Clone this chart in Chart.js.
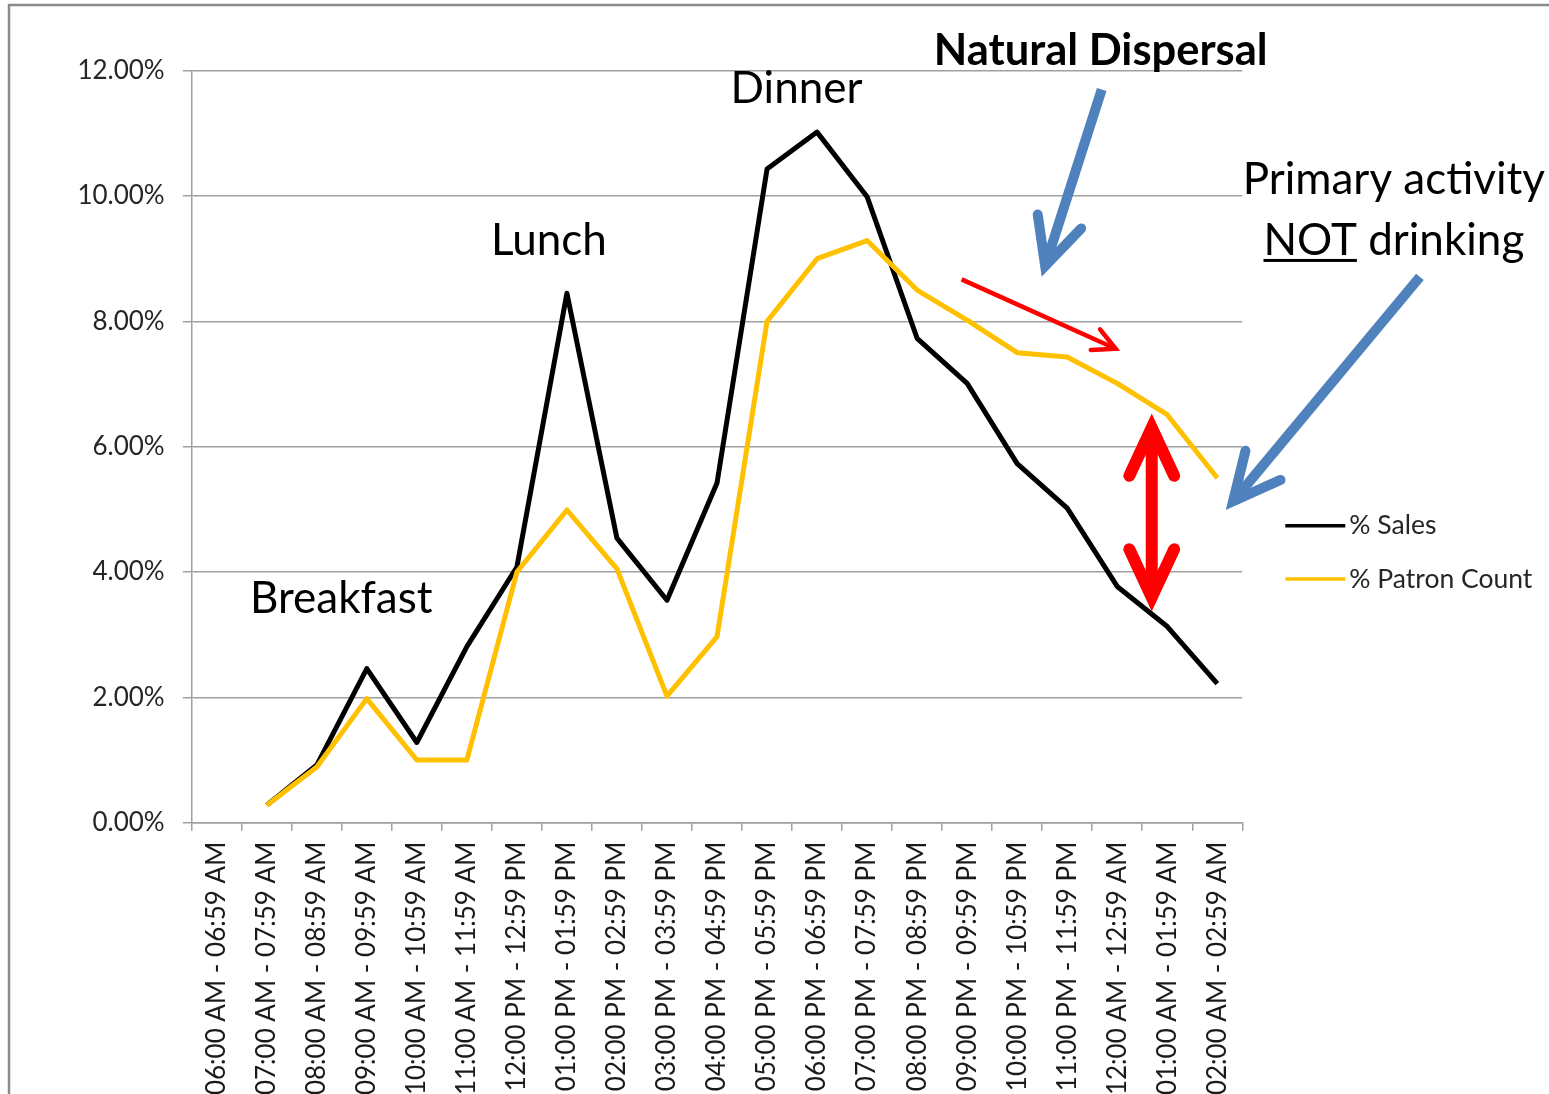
<!DOCTYPE html>
<html>
<head>
<meta charset="utf-8">
<script src="https://cdn.jsdelivr.net/npm/chart.js@4/dist/chart.umd.min.js"></script>
<style>
  html, body { margin: 0; padding: 0; background: #fff; overflow: hidden; }
  canvas { display: block; }
</style>
</head>
<body>
<canvas id="chart" width="1549" height="1094"></canvas>
<script>
// Hour buckets on the x axis
const hours = [
    '06:00 AM - 06:59 AM', '07:00 AM - 07:59 AM', '08:00 AM - 08:59 AM',
    '09:00 AM - 09:59 AM', '10:00 AM - 10:59 AM', '11:00 AM - 11:59 AM',
    '12:00 PM - 12:59 PM', '01:00 PM - 01:59 PM', '02:00 PM - 02:59 PM',
    '03:00 PM - 03:59 PM', '04:00 PM - 04:59 PM', '05:00 PM - 05:59 PM',
    '06:00 PM - 06:59 PM', '07:00 PM - 07:59 PM', '08:00 PM - 08:59 PM',
    '09:00 PM - 09:59 PM', '10:00 PM - 10:59 PM', '11:00 PM - 11:59 PM',
    '12:00 AM - 12:59 AM', '01:00 AM - 01:59 AM', '02:00 AM - 02:59 AM'
];

// Values in percent
const salesPct = [null, 0.28, 0.92, 2.46, 1.28, 2.81, 4.08, 8.45, 4.54, 3.55, 5.42,
                  10.43, 11.02, 9.99, 7.73, 7.01, 5.73, 5.02, 3.77, 3.13, 2.22];
const patronPct = [null, 0.28, 0.89, 1.98, 1.0, 1.0, 4.0, 4.99, 4.05, 2.02, 2.97,
                   8.0, 9.0, 9.29, 8.5, 8.02, 7.5, 7.43, 7.01, 6.51, 5.5];

const yTicks = [0, 2, 4, 6, 8, 10, 12];

const FONT = 'Lato';

// Callouts, placed in data space (category index, percent)
const notes = [
    {text: 'Breakfast', i: 2.49, v: 3.35},
    {text: 'Lunch', i: 6.64, v: 9.06},
    {text: 'Dinner', i: 11.59, v: 11.48},
    {text: 'Natural Dispersal', i: 17.67, v: 12.09, bold: true},
    {text: 'Primary activity', i: 23.53, v: 10.03},
    {text: 'NOT drinking', i: 23.53, v: 9.06, underline: 'NOT'}
];

const arrows = [
    {from: [17.69, 11.70], to: [16.49, 8.71], color: '#4F81BD', width: 10, head: 52, angle: 26},
    {from: [24.05, 8.71], to: [20.17, 4.99], color: '#4F81BD', width: 10, head: 52, angle: 26},
    {from: [14.89, 8.67], to: [18.06, 7.53], color: '#FF0000', width: 4.5, head: 25, angle: 27},
    {from: [18.69, 3.37], to: [18.69, 6.53], color: '#FF0000', width: 12, head: 53, angle: 25, both: true}
];

function drawHead(ctx, tx, ty, ux, uy, a) {
    // ux,uy: unit vector pointing from tip back along the shaft
    const ang = a.angle * Math.PI / 180;
    const inset = (a.width / 2) / Math.sin(ang);
    const ix = tx + ux * inset, iy = ty + uy * inset;
    const rot = (dx, dy, t) => [dx * Math.cos(t) - dy * Math.sin(t), dx * Math.sin(t) + dy * Math.cos(t)];
    const b1 = rot(ux, uy, ang), b2 = rot(ux, uy, -ang);
    ctx.beginPath();
    ctx.moveTo(ix + b1[0] * a.head, iy + b1[1] * a.head);
    ctx.lineTo(ix, iy);
    ctx.lineTo(ix + b2[0] * a.head, iy + b2[1] * a.head);
    ctx.lineCap = 'round';
    ctx.lineJoin = 'miter';
    ctx.miterLimit = 10;
    ctx.stroke();
    return [ix, iy];
}

const extrasPlugin = {
    id: 'extras',
    beforeDraw(chart) {
        const ctx = chart.ctx;
        ctx.save();
        ctx.fillStyle = '#fff';
        ctx.fillRect(0, 0, chart.width, chart.height);
        // outer frame of the slide chart
        ctx.strokeStyle = '#8a8a8a';
        ctx.lineWidth = 2.5;
        ctx.strokeRect(9, 5, chart.width + 50, chart.height + 50);
        ctx.restore();
    },
    afterDraw(chart) {
        const ctx = chart.ctx;
        const xs = chart.scales.x, ys = chart.scales.y;
        const px = i => xs.getPixelForValue(i);
        const py = v => ys.getPixelForValue(v);
        ctx.save();

        // legend
        const area = chart.chartArea;
        chart.data.datasets.forEach((ds, k) => {
            const y = 525.7 + k * 53.3;
            ctx.strokeStyle = ds.borderColor;
            ctx.lineWidth = 3.5;
            ctx.beginPath();
            ctx.moveTo(area.right + 43, y);
            ctx.lineTo(area.right + 103, y);
            ctx.stroke();
            ctx.fillStyle = '#262626';
            ctx.font = '26.5px ' + FONT;
            ctx.textAlign = 'left';
            ctx.textBaseline = 'middle';
            ctx.fillText(ds.label, area.right + 107, y);
        });

        // callout text
        notes.forEach(n => {
            ctx.font = (n.bold ? 'bold 43.5px ' : '44px ') + FONT;
            ctx.fillStyle = '#000';
            ctx.textAlign = 'center';
            ctx.textBaseline = 'alphabetic';
            const x = px(n.i), y = py(n.v);
            ctx.fillText(n.text, x, y);
            if (n.underline) {
                const full = ctx.measureText(n.text).width;
                const part = ctx.measureText(n.underline).width;
                const left = x - full / 2;
                ctx.fillRect(left, y + 4, part, 3);
            }
        });

        // arrows
        arrows.forEach(a => {
            let x1 = px(a.from[0]), y1 = py(a.from[1]);
            let x2 = px(a.to[0]), y2 = py(a.to[1]);
            const len = Math.hypot(x1 - x2, y1 - y2);
            const ux = (x1 - x2) / len, uy = (y1 - y2) / len;
            ctx.strokeStyle = a.color;
            ctx.lineWidth = a.width;
            const end = drawHead(ctx, x2, y2, ux, uy, a);
            let start = [x1, y1];
            if (a.both) start = drawHead(ctx, x1, y1, -ux, -uy, a);
            ctx.beginPath();
            ctx.moveTo(start[0], start[1]);
            ctx.lineTo(end[0], end[1]);
            ctx.lineCap = 'butt';
            ctx.stroke();
        });
        ctx.restore();
    }
};

const chart = new Chart(document.getElementById('chart').getContext('2d'), {
    type: 'line',
    data: {
        labels: hours,
        datasets: [{
            label: '% Sales',
            data: salesPct,
            borderColor: '#000000',
            borderWidth: 5,
            borderJoinStyle: 'round',
            pointRadius: 0,
            tension: 0,
            order: 1
        }, {
            label: '% Patron Count',
            data: patronPct,
            borderColor: '#FFC000',
            borderWidth: 5,
            borderJoinStyle: 'round',
            pointRadius: 0,
            tension: 0,
            order: 0
        }]
    },
    options: {
        responsive: false,
        animation: false,
        layout: {padding: {top: 70.7, right: 306.7, left: 0, bottom: 0}},
        plugins: {
            legend: {display: false},
            tooltip: {enabled: false}
        },
        scales: {
            x: {
                offset: true,
                grid: {offset: true, drawOnChartArea: false, tickLength: 8, color: '#a0a0a0', lineWidth: 1.5},
                border: {color: '#a0a0a0', width: 1.5},
                ticks: {
                    autoSkip: false, maxRotation: 90, minRotation: 90, padding: 11,
                    color: '#1a1a1a', font: {family: FONT, size: 26}
                },
                afterFit: s => { s.height = 271.3; }
            },
            y: {
                min: 0,
                max: 12,
                afterBuildTicks: s => { s.ticks = yTicks.map(v => ({value: v})); },
                grid: {color: '#a0a0a0', lineWidth: 1.5, tickLength: 9},
                border: {color: '#a0a0a0', width: 1.5},
                ticks: {
                    padding: 18, color: '#262626', font: {family: FONT, size: 26},
                    callback: v => v.toFixed(2) + '%'
                },
                afterFit: s => { s.width = 191.7; }
            }
        }
    },
    plugins: [extrasPlugin]
});
</script>
</body>
</html>
